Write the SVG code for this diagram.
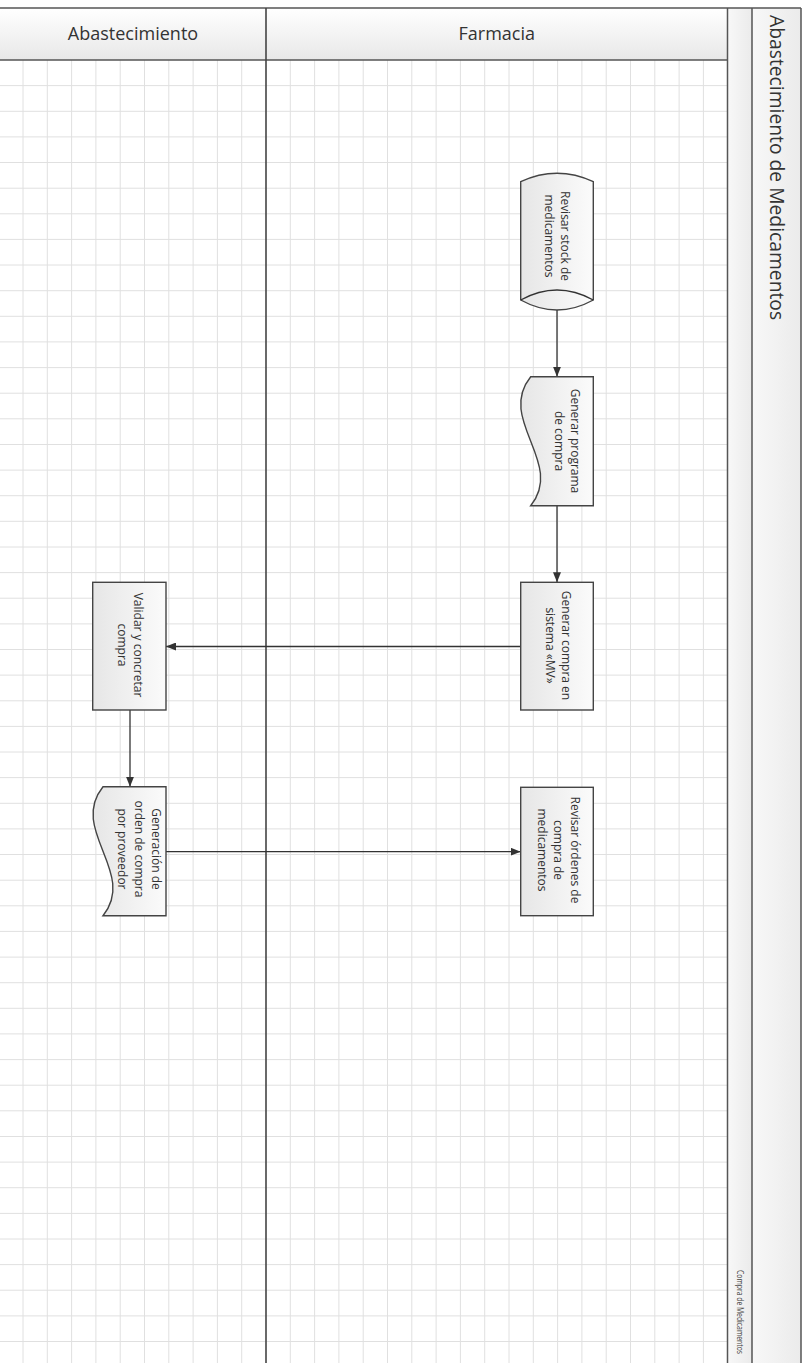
<svg xmlns="http://www.w3.org/2000/svg" width="806" height="1363" viewBox="0 0 806 1363">
<defs>
<style>
.grid{stroke:#e0e0e0;stroke-width:1;fill:none}
.frame{stroke:#555;stroke-width:1.5;fill:none}
.shape{fill:url(#shapeFill);stroke:#444;stroke-width:1.4}
.conn{stroke:#333;stroke-width:1.3;fill:none}
.lbl{font-family:"Open Sans","Liberation Sans",sans-serif;font-size:12px;fill:#333;text-anchor:middle}
.hdr{font-family:"Open Sans","Liberation Sans",sans-serif;font-size:18px;fill:#333;text-anchor:middle}
.title{font-family:"Open Sans","Liberation Sans",sans-serif;font-size:19.3px;fill:#333}
.foot{font-family:"Open Sans","Liberation Sans",sans-serif;font-size:9.5px;fill:#444}
</style>
<linearGradient id="hdrFill" x1="0" y1="0" x2="0" y2="1">
<stop offset="0" stop-color="#ffffff"/><stop offset="1" stop-color="#e8e8e8"/>
</linearGradient>
<linearGradient id="colFill" x1="0" y1="0" x2="1" y2="0">
<stop offset="0" stop-color="#f8f8f8"/><stop offset="1" stop-color="#ebebeb"/>
</linearGradient>
<linearGradient id="shapeFill" x1="1" y1="0" x2="0" y2="0">
<stop offset="0" stop-color="#fbfbfb"/><stop offset="1" stop-color="#e6e6e6"/>
</linearGradient>
<marker id="arrow" markerWidth="10" markerHeight="8" refX="10" refY="4" orient="auto" markerUnits="userSpaceOnUse">
<path d="M0,0 L10,4 L0,8 Z" fill="#333"/>
</marker>
</defs>
<rect x="0" y="0" width="806" height="1363" fill="#ffffff"/>

<g id="grid">
<path class="grid" d="M23,60V1363M47.3,60V1363M71.6,60V1363M95.9,60V1363M120.2,60V1363M144.5,60V1363M168.8,60V1363M193.1,60V1363M217.4,60V1363M241.7,60V1363M290.3,60V1363M314.6,60V1363M338.9,60V1363M363.2,60V1363M387.5,60V1363M411.8,60V1363M436.1,60V1363M460.4,60V1363M484.7,60V1363M509,60V1363M533.3,60V1363M557.6,60V1363M581.9,60V1363M606.2,60V1363M630.5,60V1363M654.8,60V1363M679.1,60V1363M703.4,60V1363"/>
<path class="grid" d="M0,85.6H727.5M0,111.3H727.5M0,136.9H727.5M0,162.5H727.5M0,188.2H727.5M0,213.8H727.5M0,239.4H727.5M0,265H727.5M0,290.7H727.5M0,316.3H727.5M0,341.9H727.5M0,367.6H727.5M0,393.2H727.5M0,418.8H727.5M0,444.5H727.5M0,470.1H727.5M0,495.7H727.5M0,521.3H727.5M0,547H727.5M0,572.6H727.5M0,598.2H727.5M0,623.9H727.5M0,649.5H727.5M0,675.1H727.5M0,700.8H727.5M0,726.4H727.5M0,752H727.5M0,777.6H727.5M0,803.3H727.5M0,828.9H727.5M0,854.5H727.5M0,880.2H727.5M0,905.8H727.5M0,931.4H727.5M0,957.1H727.5M0,982.7H727.5M0,1008.3H727.5M0,1033.9H727.5M0,1059.6H727.5M0,1085.2H727.5M0,1110.8H727.5M0,1136.5H727.5M0,1162.1H727.5M0,1187.7H727.5M0,1213.4H727.5M0,1239H727.5M0,1264.6H727.5M0,1290.2H727.5M0,1315.9H727.5M0,1341.5H727.5"/>
</g>

<g id="pool">
<rect x="0" y="8" width="727.5" height="52" fill="url(#hdrFill)"/>
<rect x="727.5" y="8" width="24.5" height="1355" fill="url(#colFill)"/>
<rect x="752" y="8" width="49" height="1355" fill="url(#colFill)"/>
<path class="frame" d="M0,8H801M0,60H727.5M727.5,8V1363M752,8V1363M801,8V1363"/>
<path d="M266,8V1363" stroke="#444" stroke-width="1.6" fill="none"/>
<text class="hdr" x="133" y="40">Abastecimiento</text>
<text class="hdr" x="496.8" y="40">Farmacia</text>
<text class="title" transform="translate(770,15) rotate(90)" x="0" y="0">Abastecimiento de Medicamentos</text>
<text class="foot" transform="translate(736.5,1270) rotate(90)" x="0" y="0" textLength="84" lengthAdjust="spacingAndGlyphs">Compra de Medicamentos</text>
</g>

<g id="connectors">
<path class="conn" d="M557,303V376.7" marker-end="url(#arrow)"/>
<path class="conn" d="M557,505.7V582.3" marker-end="url(#arrow)"/>
<path class="conn" d="M520.7,646.5H166" marker-end="url(#arrow)"/>
<path class="conn" d="M130,710V786.7" marker-end="url(#arrow)"/>
<path class="conn" d="M166,851.7H520.7" marker-end="url(#arrow)"/>
</g>

<g id="node-revisar-stock">
<path class="shape" d="M520.7,181.7Q557,164.9 593.3,181.7V300Q557,320 520.7,300Z"/>
<path class="conn" d="M520.7,300Q557,280 593.3,300" stroke="#444" stroke-width="1.4"/>
<text class="lbl" transform="translate(557,236) rotate(90)"><tspan x="0" y="-4">Revisar stock de</tspan><tspan x="0" y="12.5">medicamentos</tspan></text>
</g>

<g id="node-generar-programa">
<path class="shape" d="M530.7,376.7H593.3V505.7H530.7C565.3,462.7 496.1,419.7 530.7,376.7Z"/>
<text class="lbl" transform="translate(567,441) rotate(90)"><tspan x="0" y="-4">Generar programa</tspan><tspan x="0" y="12.5">de compra</tspan></text>
</g>

<g id="node-generar-compra">
<rect class="shape" x="520.7" y="582.3" width="72.6" height="127.7"/>
<text class="lbl" transform="translate(558,645.5) rotate(90)"><tspan x="0" y="-4.3">Generar compra en</tspan><tspan x="0" y="12.5">sistema «MV»</tspan></text>
</g>

<g id="node-validar">
<rect class="shape" x="92.7" y="582.3" width="73.3" height="127.7"/>
<text class="lbl" transform="translate(130,645) rotate(90)"><tspan x="0" y="-4.3">Validar y concretar</tspan><tspan x="0" y="12.4">compra</tspan></text>
</g>

<g id="node-generacion-orden">
<path class="shape" d="M103,786.7H166V915.7H103C137.6,872.7 68.4,829.7 103,786.7Z"/>
<text class="lbl" transform="translate(139,849) rotate(90)"><tspan x="0" y="-12.7">Generación de</tspan><tspan x="0" y="4">orden de compra</tspan><tspan x="0" y="20.7">por proveedor</tspan></text>
</g>

<g id="node-revisar-ordenes">
<rect class="shape" x="520.7" y="787.3" width="72.6" height="128.4"/>
<text class="lbl" transform="translate(558.3,850) rotate(90)"><tspan x="0" y="-12.7">Revisar órdenes de</tspan><tspan x="0" y="4">compra de</tspan><tspan x="0" y="20.7">medicamentos</tspan></text>
</g>
</svg>
